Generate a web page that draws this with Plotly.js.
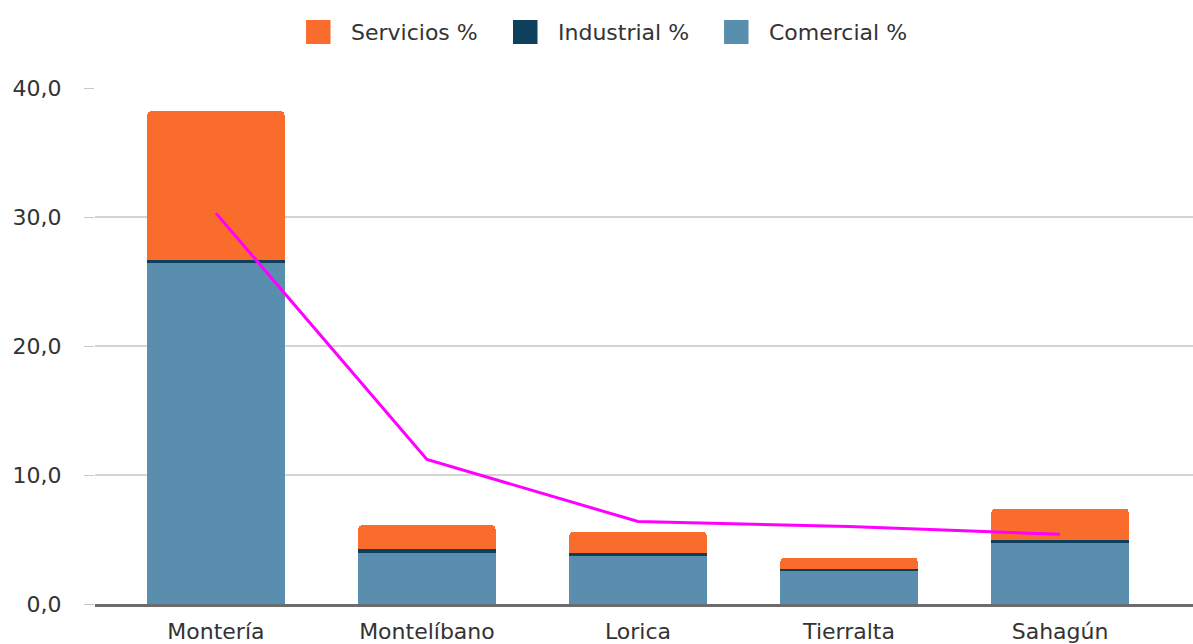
<!DOCTYPE html>
<html>
<head>
<meta charset="utf-8">
<script src="https://cdn.plot.ly/plotly-3.0.1.min.js"></script>
<style>html,body{margin:0;padding:0;background:#fff;}#chart{width:1193px;height:644px;}</style>
</head>
<body>
<div id="chart"></div>
<script>
const municipios = ["Montería", "Montelíbano", "Lorica", "Tierralta", "Sahagún"];
const comercial = [26.4, 3.95, 3.7, 2.55, 4.7];
const industrial = [0.3, 0.3, 0.25, 0.15, 0.3];
const servicios = [11.5, 1.85, 1.65, 0.9, 2.4];
const lineaValores = [30.3, 11.2, 6.4, 6.0, 5.4];
const yTicks = [0, 10, 20, 30, 40];
const legendNames = ["Servicios %", "Industrial %", "Comercial %"];
const colors = {comercial: "#5A8EAE", industrial: "#0E3F5C", servicios: "#F96C2C", linea: "#FF00FF"};
const legendColors = [colors.servicios, colors.industrial, colors.comercial];

const FONT = "DejaVu Sans, Liberation Sans, Arial, sans-serif";

const traces = [
  {type: "bar", name: "Comercial %", x: municipios, y: comercial, marker: {color: colors.comercial}, showlegend: false},
  {type: "bar", name: "Industrial %", x: municipios, y: industrial, marker: {color: colors.industrial}, showlegend: false},
  {type: "bar", name: "Servicios %", x: municipios, y: servicios, marker: {color: colors.servicios}, showlegend: false},
  {type: "scatter", mode: "lines", name: "Total", x: municipios, y: lineaValores,
   line: {color: colors.linea, width: 3}, showlegend: false}
];

// Custom legend (large square swatches), in paper coordinates
const swatchX = [0.1922, 0.3807, 0.5729];
const swatchW = 0.0223;
const shapes = [];
const annotations = [];
legendNames.forEach((nm, i) => {
  shapes.push({type: "rect", xref: "paper", yref: "paper",
    x0: swatchX[i], x1: swatchX[i] + swatchW, y0: 1.0853, y1: 1.1318,
    fillcolor: legendColors[i], line: {width: 0}});
  annotations.push({xref: "paper", yref: "paper", x: swatchX[i] + swatchW + 0.0165, y: 1.1076,
    xanchor: "left", yanchor: "middle", showarrow: false, text: nm,
    font: {family: FONT, size: 22, color: "#333"}});
});

const layout = {
  width: 1193, height: 644,
  margin: {l: 95, r: 0, t: 88, b: 40},
  barmode: "stack",
  bargap: 0.35,
  barcornerradius: 4,
  separators: ",.",
  paper_bgcolor: "#fff", plot_bgcolor: "#fff",
  font: {family: FONT, size: 22, color: "#333"},
  showlegend: false,
  shapes: shapes,
  annotations: annotations,
  xaxis: {type: "category", range: [-0.573, 4.63], showline: true, linecolor: "#6b6b6b",
          linewidth: 3, ticks: "", showgrid: false, tickfont: {size: 22, color: "#333"},
          ticklabelstandoff: 6},
  yaxis: {range: [0, 40], tickvals: yTicks, tickformat: ".1f", showgrid: true, gridcolor: "#d4d4d4",
          gridwidth: 1.5, zeroline: false, ticks: "outside", ticklen: 10, tickcolor: "#c8c8c8",
          tickfont: {size: 22, color: "#333"}, ticklabelstandoff: 18}
};

Plotly.newPlot("chart", traces, layout, {displayModeBar: false, staticPlot: true});
</script>
</body>
</html>
